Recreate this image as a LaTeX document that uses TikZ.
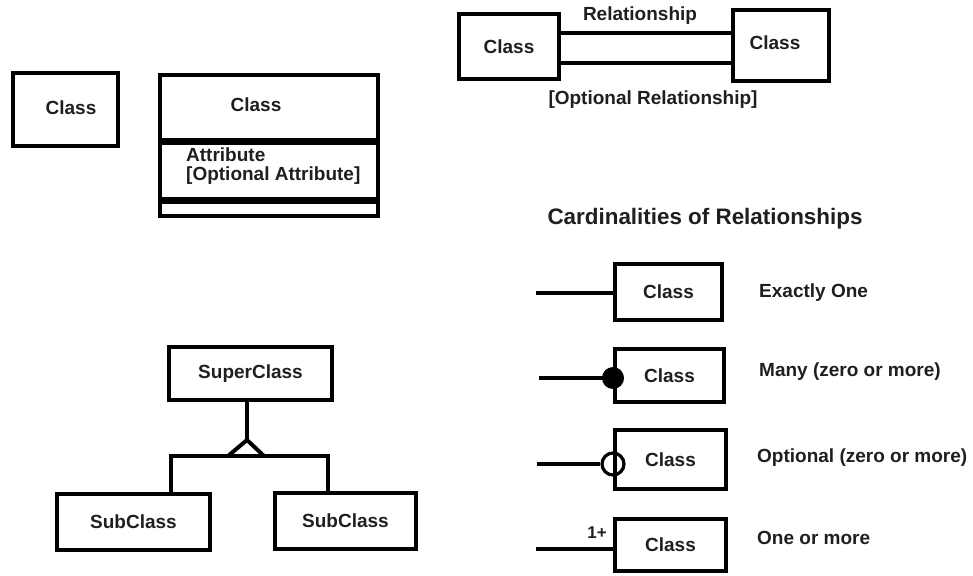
\documentclass[tikz,border=0pt]{standalone}
\usepackage{fontspec}
\setmainfont{Liberation Sans}
\definecolor{ink}{rgb}{0.12,0.12,0.12}
\begin{document}
\begin{tikzpicture}[x=1pt,y=-1pt,
  box/.style={draw=black,line width=4pt,rectangle,inner sep=0pt,minimum width=#1},
  lbl/.style={text=ink,font=\fontsize{19}{22}\bfseries\selectfont,inner sep=0pt},
  ttl/.style={text=ink,font=\fontsize{22.4}{26}\bfseries\selectfont,inner sep=0pt},
  con/.style={draw=black,line width=4pt},
  divider/.style={draw=black,line width=7pt}]
\useasboundingbox (0,0) rectangle (973,575);

% simple class
\node[box=105,minimum height=73] (c1) at (65.5,109.5) {};
\node[lbl] (c1t) at (71,108) {Class};

% class with attributes
\node[box=218,minimum height=141] (c2) at (269,145.5) {};
\node[lbl] (c2t) at (256,105) {Class};
\coordinate (d1) at (0,141);
\coordinate (d2) at (0,200.5);
\draw[divider] (c2.west |- d1) -- (c2.east |- d1);
\draw[divider] (c2.west |- d2) -- (c2.east |- d2);
\node[lbl,anchor=west,align=left] (c2a) at (186,166) {Attribute\\[-3pt][Optional Attribute]};

% relationship
\node[box=100,minimum height=65,lbl] (rl) at (509,46.5) {Class};
\node[box=96,minimum height=71] (rr) at (781,45.5) {};
\node[lbl] (rrt) at (775,43) {Class};
\coordinate (r1) at (0,33);
\coordinate (r2) at (0,63);
\draw[con] (rl.east |- r1) -- (rr.west |- r1);
\draw[con] (rl.east |- r2) -- (rr.west |- r2);
\node[lbl] (rt1) at (640,16) {Relationship};
\node[lbl] (rt2) at (653,100) {[Optional Relationship]};

% inheritance
\node[box=163,minimum height=53,lbl] (sup) at (250.5,373.5) {SuperClass};
\node[box=153,minimum height=56,lbl] (sl) at (133.5,522) {SubClass};
\node[box=141,minimum height=56,lbl] (sr) at (345.5,521) {SubClass};
\coordinate (apex) at (247,440);
\coordinate (tl) at (228,456);
\coordinate (tr) at (264,456);
\coordinate (hl) at (171,456);
\coordinate (hr) at (328,456);
\draw[con] (sup.south -| apex) -- (apex);
\draw[con,line join=miter] (tl) -- (apex) -- (tr);
\draw[con,line join=miter] (hl |- sl.north) -- (hl) -- (hr) -- (hr |- sr.north);

% cardinalities
\node[ttl] (ct) at (705,219) {Cardinalities of Relationships};

\node[box=107,minimum height=56,lbl] (k1) at (668.5,292) {Class};
\node[box=109,minimum height=53,lbl] (k2) at (669.5,375.5) {Class};
\node[box=111,minimum height=59,lbl] (k3) at (670.5,459.5) {Class};
\node[box=111,minimum height=52,lbl] (k4) at (670.5,545) {Class};

\coordinate (e1) at (536,293);
\coordinate (e2) at (539,378);
\coordinate (e3) at (537,464);
\coordinate (e4) at (536,549);
\draw[con] (e1) -- (k1.west |- e1);
\draw[con] (e2) -- (k2.west |- e2);
\node[circle,fill=black,inner sep=0pt,minimum size=22] (dot) at (k2.west |- e2) {};
\node[circle,draw=black,line width=3.2pt,inner sep=0pt,minimum size=22] (ring) at (k3.west |- e3) {};
\draw[con] (e3) -- (ring.west);
\draw[con] (e4) -- (k4.west |- e4);
\node[text=ink,font=\fontsize{17}{20}\bfseries\selectfont,inner sep=0pt] (one) at (597,533) {1+};

\node[lbl,anchor=west] (t1) at (759,293) {Exactly One};
\node[lbl,anchor=west] (t2) at (759,372) {Many (zero or more)};
\node[lbl,anchor=west] (t3) at (757,458) {Optional (zero or more)};
\node[lbl,anchor=west] (t4) at (757,538) {One or more};
\end{tikzpicture}
\end{document}
